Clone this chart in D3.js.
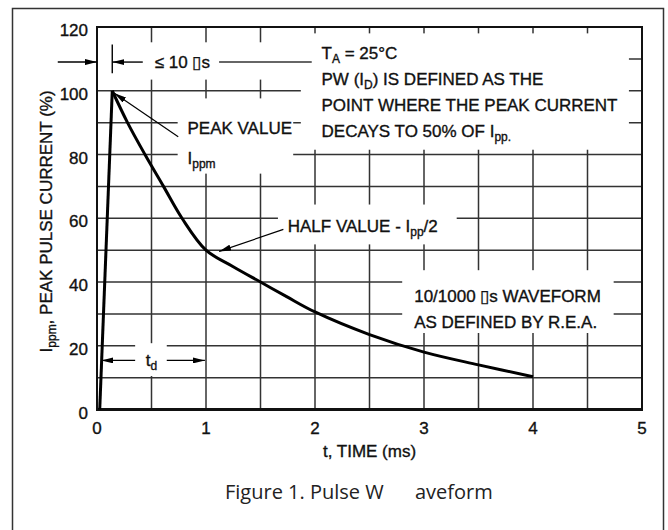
<!DOCTYPE html>
<html>
<head>
<meta charset="utf-8">
<script src="https://cdn.jsdelivr.net/npm/d3@7"></script>
<style>
  html, body { margin: 0; padding: 0; background: #fff; }
  svg { display: block; font-family: "Liberation Sans", Arial, sans-serif; }
  svg text.ink { fill: #111; stroke: #111; stroke-width: 0.35px; }
</style>
</head>
<body>
<div id="chart"></div>
<script>
// waveform (t in ms, current in % of Ipp)
const timeMs = [0.025, 0.14, 0.28, 0.44, 0.61, 0.78, 1.0, 1.25, 1.5, 1.74, 2.0, 2.5, 3.0, 3.5, 4.0];
const currentPct = [0, 100, 90, 80, 70, 60, 50, 44.8, 40, 35.4, 30.6, 23.5, 18, 14, 10.3];

const xTicks = [0, 1, 2, 3, 4, 5];
const yTicks = [0, 20, 40, 60, 80, 100, 120];

const xTitle = 't, TIME (ms)';
const yTitle = [['I'], ['ppm', 'sub'], [', PEAK PULSE CURRENT (%)']];
const caption = 'Figure 1. Pulse W      aveform';

// note block, top right
const noteLines = [
  [['T'], ['A', 'sub'], [' = 25°C']],
  [['PW (I'], ['D', 'sub'], [') IS DEFINED AS THE']],
  [['POINT WHERE THE PEAK CURRENT']],
  [['DECAYS TO 50% OF I'], ['pp.', 'sub']]
];
const peakLines = [[['PEAK VALUE']], [['I'], ['ppm', 'sub']]];
const halfLine = [['HALF VALUE - I'], ['pp', 'sub'], ['/2']];
const waveLines = [[['10/1000 \u25AFs WAVEFORM']], [['AS DEFINED BY R.E.A.']]];
const riseLabel = [['\u2264 10 \u25AFs']];
const tdLabel = [['t'], ['d', 'sub']];

const width = 668, height = 530;

const x = d3.scaleLinear().domain([0, 5]).range([97, 642]);
const y = d3.scaleLinear().domain([0, 120]).range([409.5, 27]);

const svg = d3.select('#chart').append('svg')
  .attr('width', width)
  .attr('height', height);

const defs = svg.append('defs');
defs.append('marker')
  .attr('id', 'head')
  .attr('viewBox', '0 0 12 6')
  .attr('refX', 12).attr('refY', 3)
  .attr('markerWidth', 12).attr('markerHeight', 6)
  .attr('markerUnits', 'userSpaceOnUse')
  .attr('orient', 'auto')
  .append('path')
  .attr('d', 'M0,0 L12,3 L0,6 Z')
  .attr('fill', '#000');

// outer frame
svg.append('rect')
  .attr('x', 12.5).attr('y', 8.5)
  .attr('width', 651).attr('height', 540)
  .attr('fill', 'none')
  .attr('stroke', '#333')
  .attr('stroke-width', 1.5);

// grid
const grid = svg.append('g').attr('stroke', '#333').attr('stroke-width', 1.5);
grid.selectAll('.vx')
  .data(x.ticks(10))
  .enter().append('line')
  .attr('x1', d => x(d)).attr('x2', d => x(d))
  .attr('y1', y(120)).attr('y2', y(0));
grid.selectAll('.hy')
  .data(y.ticks(12))
  .enter().append('line')
  .attr('x1', x(0)).attr('x2', x(5))
  .attr('y1', d => y(d)).attr('y2', d => y(d));

// white boxes behind the notes, [t0, t1, v0, v1]
const masks = [
  [0, 1.98, 115.2, 103.5],
  [0.74, 1.80, 97.6, 74],
  [1.87, 4.88, 118, 81.5],
  [1.66, 3.30, 64.3, 51.8],
  [2.80, 4.74, 43.7, 24],
  [0.35, 0.64, 20.8, 10.5]
];
svg.append('g').selectAll('rect')
  .data(masks)
  .enter().append('rect')
  .attr('x', d => x(d[0])).attr('width', d => x(d[1]) - x(d[0]))
  .attr('y', d => y(d[2])).attr('height', d => y(d[3]) - y(d[2]))
  .attr('fill', '#fff');

// plot border
svg.append('rect')
  .attr('x', x(0)).attr('y', y(120))
  .attr('width', x(5) - x(0)).attr('height', y(0) - y(120))
  .attr('fill', 'none')
  .attr('stroke', '#111')
  .attr('stroke-width', 2);
svg.append('line')
  .attr('x1', x(0) - 1).attr('x2', x(5) + 1)
  .attr('y1', y(0)).attr('y2', y(0))
  .attr('stroke', '#111')
  .attr('stroke-width', 3);

// tick labels
svg.append('g').selectAll('text')
  .data(xTicks)
  .enter().append('text')
  .attr('class', 'ink')
  .attr('x', d => x(d)).attr('y', y(0) + 24)
  .attr('text-anchor', 'middle')
  .attr('font-size', 17)
  .text(d => d);
svg.append('g').selectAll('text')
  .data(yTicks)
  .enter().append('text')
  .attr('class', 'ink')
  .attr('x', x(0) - 9).attr('y', d => y(d) + 9)
  .attr('text-anchor', 'end')
  .attr('font-size', 17)
  .text(d => d);

function rich(sel, parts) {
  let shifted = false;
  parts.forEach(([str, kind]) => {
    const sub = kind === 'sub';
    const t = sel.append('tspan').text(str);
    if (sub) t.attr('font-size', 12).attr('dy', shifted ? null : 4);
    else if (shifted) t.attr('dy', -4);
    shifted = sub;
  });
  return sel;
}

function label(px, py, parts, anchor) {
  const t = svg.append('text')
    .attr('class', 'ink')
    .attr('x', px).attr('y', py)
    .attr('font-size', 17)
    .attr('text-anchor', anchor || 'start');
  return rich(t, parts);
}

// axis titles + caption
label((x(0) + x(5)) / 2, 457, [[xTitle]], 'middle');
rich(svg.append('text')
  .attr('class', 'ink')
  .attr('transform', `translate(52, ${y(59)}) rotate(-90)`)
  .attr('text-anchor', 'middle')
  .attr('font-size', 17), yTitle);
svg.append('text')
  .attr('x', 225).attr('y', 499)
  .attr('font-family', '"Open Sans", "Noto Sans", sans-serif')
  .attr('font-size', 20)
  .attr('fill', '#222')
  .style('white-space', 'pre')
  .text(caption);

// waveform: straight rise, smooth decay
const pts = timeMs.map((t, i) => [t, currentPct[i]]);
const line = d3.line().x(d => x(d[0])).y(d => y(d[1]));
svg.append('path')
  .attr('d', line(pts.slice(0, 2)))
  .attr('fill', 'none').attr('stroke', '#000').attr('stroke-width', 3);
svg.append('path')
  .attr('d', line.curve(d3.curveCatmullRom.alpha(0.5))(pts.slice(1)))
  .attr('fill', 'none').attr('stroke', '#000').attr('stroke-width', 3)
  .attr('stroke-linejoin', 'round');

// arrows, [t0, v0, t1, v1], head at the second point
const arrows = [
  [0.745, 85.6, 0.16, 99.2],
  [1.71, 56.5, 1.12, 49.6],
  [-0.36, 109, 0, 109],
  [0.42, 109, 0.14, 109],
  [0.35, 15.4, 0.04, 15.4],
  [0.64, 15.4, 0.99, 15.4]
];
svg.append('g').selectAll('line')
  .data(arrows)
  .enter().append('line')
  .attr('x1', d => x(d[0])).attr('y1', d => y(d[1]))
  .attr('x2', d => x(d[2])).attr('y2', d => y(d[3]))
  .attr('stroke', '#000')
  .attr('stroke-width', (d, i) => i < 2 ? 1.2 : 1.4)
  .attr('marker-end', 'url(#head)');

// dimension tick and the line running on past the label
svg.append('line')
  .attr('x1', x(0.14)).attr('x2', x(0.14))
  .attr('y1', y(114.5)).attr('y2', y(105.5))
  .attr('stroke', '#000').attr('stroke-width', 1.4);
svg.append('line')
  .attr('x1', x(1.12)).attr('x2', x(1.97))
  .attr('y1', y(109)).attr('y2', y(109))
  .attr('stroke', '#333').attr('stroke-width', 1.4);

// notes
label(x(0.53), y(107.1), riseLabel);
peakLines.forEach((l, i) => label(x(0.83), y(86.4) + i * 30, l));
noteLines.forEach((l, i) => label(x(2.06), y(110) + i * 26, l));
label(x(1.75), y(55.8), halfLine);
waveLines.forEach((l, i) => label(x(2.91), y(33.8) + i * 26.5, l));
label(x(0.5), y(13.6), tdLabel, 'middle');
</script>
</body>
</html>
